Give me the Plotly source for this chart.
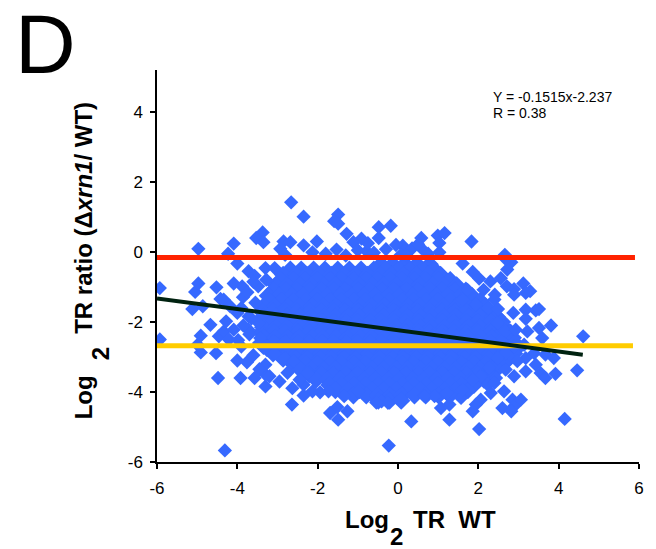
import plotly.graph_objects as go

# ---------------- data ----------------
# dense core of the cloud, one row per Log2 TR ratio level: (y, [x values])
core_rows = [
    (-0.35, [-0.42, -0.13, 0.18, 0.47, 0.79]),
    (-0.50, [-2.68, -2.41, -2.1, -1.82, -1.5, -1.21, -0.92, -0.6, -0.31, 0.02, 0.29, 0.61, 0.9]),
    (-0.65, [-2.86, -2.54, -2.27, -1.96, -1.66, -1.33, -1.06, -0.76, -0.44, -0.16, 0.14, 0.46, 0.75, 1.06]),
    (-0.80, [-2.92, -2.6, -2.31, -2.01, -1.69, -1.41, -1.1, -0.79, -0.51, -0.19, 0.1, 0.41, 0.69, 1.01, 1.3]),
    (-0.95, [-3.04, -2.76, -2.44, -2.16, -1.84, -1.56, -1.24, -0.96, -0.64, -0.36, -0.04, 0.26, 0.54, 0.86, 1.14, 1.46]),
    (-1.10, [-3.1, -2.79, -2.51, -2.19, -1.91, -1.59, -1.31, -0.99, -0.71, -0.39, -0.11, 0.21, 0.49, 0.81, 1.09, 1.41, 1.69]),
    (-1.25, [-3.24, -2.96, -2.64, -2.36, -2.04, -1.76, -1.44, -1.16, -0.84, -0.56, -0.24, 0.04, 0.36, 0.64, 0.96, 1.24, 1.56, 1.84]),
    (-1.40, [-3.21, -2.89, -2.61, -2.29, -2.01, -1.69, -1.41, -1.09, -0.81, -0.49, -0.21, 0.11, 0.39, 0.71, 0.99, 1.31, 1.59, 1.91, 2.05]),
    (-1.55, [-3.34, -3.06, -2.74, -2.46, -2.14, -1.86, -1.54, -1.26, -0.94, -0.66, -0.34, -0.06, 0.26, 0.54, 0.86, 1.14, 1.46, 1.74, 2.06, 2.18]),
    (-1.70, [-3.39, -3.11, -2.79, -2.51, -2.19, -1.91, -1.59, -1.31, -0.99, -0.71, -0.39, -0.11, 0.21, 0.49, 0.81, 1.09, 1.41, 1.69, 2.01, 2.29]),
    (-1.85, [-3.36, -3.04, -2.76, -2.44, -2.16, -1.84, -1.56, -1.24, -0.96, -0.64, -0.36, -0.04, 0.24, 0.56, 0.84, 1.16, 1.44, 1.76, 2.04, 2.36, 2.46]),
    (-2.00, [-3.41, -3.11, -2.81, -2.49, -2.21, -1.89, -1.61, -1.29, -1.01, -0.69, -0.41, -0.09, 0.19, 0.51, 0.79, 1.11, 1.39, 1.71, 1.99, 2.31, 2.59]),
    (-2.15, [-3.36, -3.04, -2.76, -2.44, -2.16, -1.84, -1.56, -1.24, -0.96, -0.64, -0.36, -0.04, 0.24, 0.56, 0.84, 1.16, 1.44, 1.76, 2.04, 2.36, 2.64]),
    (-2.30, [-3.41, -3.09, -2.81, -2.49, -2.21, -1.89, -1.61, -1.29, -1.01, -0.69, -0.41, -0.09, 0.19, 0.51, 0.79, 1.11, 1.39, 1.71, 1.99, 2.31, 2.59, 2.8]),
    (-2.45, [-3.34, -3.06, -2.74, -2.46, -2.14, -1.86, -1.54, -1.26, -0.94, -0.66, -0.34, -0.06, 0.26, 0.54, 0.86, 1.14, 1.46, 1.74, 2.06, 2.34, 2.66, 2.86]),
    (-2.60, [-3.41, -3.09, -2.81, -2.49, -2.21, -1.89, -1.61, -1.29, -1.01, -0.69, -0.41, -0.09, 0.19, 0.51, 0.79, 1.11, 1.39, 1.71, 1.99, 2.31, 2.59, 2.91]),
    (-2.75, [-3.26, -2.94, -2.66, -2.34, -2.06, -1.74, -1.46, -1.14, -0.86, -0.54, -0.26, 0.06, 0.34, 0.66, 0.94, 1.26, 1.54, 1.86, 2.14, 2.46, 2.74, 2.96]),
    (-2.90, [-3.11, -2.79, -2.51, -2.19, -1.91, -1.59, -1.31, -0.99, -0.71, -0.39, -0.11, 0.21, 0.49, 0.81, 1.09, 1.41, 1.69, 2.01, 2.29, 2.61, 2.89]),
    (-3.05, [-2.86, -2.54, -2.26, -1.94, -1.66, -1.34, -1.06, -0.74, -0.46, -0.14, 0.14, 0.46, 0.74, 1.06, 1.34, 1.66, 1.94, 2.26, 2.54, 2.76]),
    (-3.20, [-2.61, -2.29, -2.01, -1.69, -1.41, -1.09, -0.81, -0.49, -0.21, 0.11, 0.39, 0.71, 0.99, 1.31, 1.59, 1.91, 2.19, 2.51, 2.61]),
    (-3.35, [-2.44, -2.16, -1.84, -1.56, -1.24, -0.96, -0.64, -0.36, -0.04, 0.24, 0.56, 0.84, 1.16, 1.44, 1.76, 2.04, 2.36, 2.46]),
    (-3.50, [-2.21, -1.91, -1.61, -1.29, -1.01, -0.69, -0.41, -0.09, 0.19, 0.51, 0.79, 1.11, 1.39, 1.71, 1.99, 2.29]),
    (-3.65, [-2.04, -1.76, -1.44, -1.16, -0.84, -0.56, -0.24, 0.04, 0.36, 0.64, 0.96, 1.24, 1.56, 1.84, 2.14]),
    (-3.80, [-1.71, -1.41, -1.09, -0.81, -0.49, -0.21, 0.11, 0.39, 0.71, 0.99, 1.31, 1.59, 1.89]),
    (-3.95, [-1.56, -1.24, -0.96, -0.64, -0.36, -0.04, 0.24, 0.56, 0.84, 1.16, 1.44, 1.74]),
    (-4.10, [-1.11, -0.79, -0.51, -0.19, 0.09, 0.41, 0.69, 1.01, 1.29]),
    (-4.25, [-0.49, -0.21, 0.08]),
]

# scattered genes around the core (x = Log2 TR WT, y = Log2 TR ratio)
out_x = [
    -2.66, -2.35, -1.49, -1.59, -1.49, -0.48, -0.18, -1.28, -0.91, -1.11, -0.48, -2.02, -2.35, -2.13,
    -3.37, -3.53, -3.35, -4.09, -4.23, -4.97, -2.85, -2.68, -2.93, -2.81, -1.53, -0.78, 0.12, 0.58,
    0.99, 1.16, 1.03, 0.58, 1.83, -4.0, 0.07, 2.66, 2.82, 1.61, 1.86, 2.72, 2.02, 2.30, 2.56, 3.12,
    2.71, 2.89, 3.29, 3.18, 2.41, 2.40, 2.25, 2.49, 2.87, 3.18, 3.43, 3.51, 3.81, 3.18, 3.51, 3.22,
    3.59, 4.61, 3.67, 3.88, 3.39, 3.18, 3.43, 3.55, 3.67, 3.92, 4.46, 3.18, 2.89, 2.68, 2.44, 2.23,
    2.64, 2.31, 2.85, 3.06, 2.89, 2.60, 2.82, 4.15, 2.06, 1.94, 1.86, 2.02, 1.57, 1.28, 1.07, 1.28,
    1.22, 0.91, 0.66, 0.33, -0.23, -4.31, -0.41, -0.25, -0.54, -0.99, -1.26, -1.49, -1.69, -1.51,
    -1.34, -1.73, -1.94, -2.13, -2.35, -2.64, -2.63, -2.35, -2.25, -3.30, -3.30, -3.57, -3.92, -4.48,
    -3.76, -4.0, -3.30, -4.53, -4.91, -4.99, -5.93, -4.91, -4.46, -4.34, -4.67, -4.28, -4.09, -4.21,
    -3.98, -5.12, -4.86, -4.34, -4.18, -5.93, -5.05, -4.97, -4.52, -4.42, -4.09, -3.86, -4.0, -3.72,
    -3.57, -3.30, -3.07, -3.28, -3.48, -3.88, -3.72, -3.47, -3.72, -3.43, -3.35, -3.07, -2.81, -2.60,
    1.03, 2.68, 2.13, 1.73, 1.61, 1.94, 2.89, 2.48, 2.68, 2.93, 3.14, 2.89, 2.68, 2.48, 2.97, 2.27,
    2.06, 1.86, 2.40, 1.61,
    -1.0, -0.6, -0.3, 0.35, 0.75, -1.3, -1.8, 0.2, -0.05, -0.75, 0.5,
    -3.6, -3.75, -3.55, -3.9, -3.65, -3.85, -3.7, -3.9, -3.6, -3.45, -3.2, -2.95, -2.75, -2.45,
]
out_y = [
    1.42, 1.01, 1.07, 0.88, 0.81, 0.71, 0.75, 0.52, 0.38, 0.28, 0.40, 0.30, 0.19, -0.01,
    0.56, 0.40, 0.28, 0.24, -0.05, 0.09, 0.30, 0.28, 0.09, -0.08, 0.07, 0.02, 0.18, 0.40,
    0.47, 0.54, 0.26, 0.11, 0.30, -0.33, -0.08, -0.08, -0.29, -0.33, -0.57, -0.50, -0.76, -0.84, -0.75, -0.90,
    -0.98, -1.06, -1.12, -1.17, -1.22, -1.36, -1.60, -1.63, -1.74, -1.65, -1.67, -1.63, -2.10, -1.91, -2.17, -2.27,
    -2.46, -2.41, -2.93, -3.03, -2.89, -3.03, -3.22, -3.46, -3.60, -3.48, -3.38, -3.41, -3.55, -3.36, -3.60, -3.79,
    -3.98, -4.03, -4.22, -4.22, -4.41, -4.46, -4.55, -4.77, -4.22, -4.36, -4.55, -5.06, -4.17, -4.36, -4.46, -4.79,
    -4.03, -4.12, -4.12, -4.84, -5.53, -5.67, -4.27, -4.31, -4.30, -3.98, -4.55, -4.79, -4.60, -4.43,
    -4.12, -3.98, -4.01, -3.98, -4.10, -4.36, -3.89, -3.79, -3.46, -3.84, -3.50, -3.60, -3.60, -3.60,
    -3.15, -3.10, -3.22, -2.89, -2.87, -2.65, -2.50, -2.39, -2.41, -2.27, -2.08, -1.98, -2.22, -2.50,
    -2.52, -1.63, -1.55, -1.36, -1.55, -1.03, -1.14, -0.90, -1.01, -1.34, -0.90, -1.29, -1.74, -0.55,
    -0.68, -0.46, -0.46, -0.79, -0.98, -0.98, -1.84, -2.03, -2.22, -2.46, -2.74, -2.89, -3.03, -3.12,
    -0.01, -0.20, -1.08, -1.08, -1.36, -1.50, -1.22, -2.03, -2.27, -2.22, -2.65, -2.70, -2.89, -3.03, -3.12, -3.31,
    -3.55, -3.65, -3.74, -3.93,
    0.05, -0.02, 0.08, 0.1, -0.05, -0.1, -0.05, -0.1, 0.2, 0.25, 0.22,
    -0.85, -1.15, -1.45, -1.6, -1.9, -2.1, -2.35, -2.7, -2.95, -3.35, -3.55, -3.7, -3.45, -3.65,
]

# reference lines
red_level = -0.16
red_span = [-6, 5.9]
yellow_level = -2.68
yellow_span = [-6, 5.85]
fit_slope = -0.1515
fit_intercept = -2.237
fit_span = [-6, 4.6]

x_ticks = [-6, -4, -2, 0, 2, 4, 6]
y_ticks = [-6, -4, -2, 0, 2, 4]
x_range = [-6, 6]
y_range = [-6, 5.2]

# ---------------- figure ----------------
core_x, core_y = [], []
for yv, xs in core_rows:
    core_x.extend(xs)
    core_y.extend([yv] * len(xs))

FONT = "Arial, 'Liberation Sans', sans-serif"
BLUE = "#3669FF"

fig = go.Figure()
# the dense core: markers overlap into one solid patch, as in the original
fig.add_trace(go.Scatter(
    x=core_x, y=core_y, mode="markers",
    marker=dict(symbol="diamond", size=14, color=BLUE, line=dict(width=0)),
    hoverinfo="skip", showlegend=False,
))
fig.add_trace(go.Scatter(
    x=out_x, y=out_y, mode="markers",
    marker=dict(symbol="diamond", size=11, color=BLUE, line=dict(width=0)),
    hoverinfo="skip", showlegend=False,
))
fig.add_trace(go.Scatter(
    x=red_span, y=[red_level, red_level], mode="lines",
    line=dict(color="#FF2200", width=5), showlegend=False, hoverinfo="skip",
))
fig.add_trace(go.Scatter(
    x=yellow_span, y=[yellow_level, yellow_level], mode="lines",
    line=dict(color="#FFCC00", width=5), showlegend=False, hoverinfo="skip",
))
fig.add_trace(go.Scatter(
    x=fit_span, y=[fit_slope * v + fit_intercept for v in fit_span], mode="lines",
    line=dict(color="#002210", width=4), showlegend=False, hoverinfo="skip",
))

L, R, T, B = 157, 15, 70, 87
W, H = 656, 549
PW, PH = W - L - R, H - T - B


def px(xp):
    return (xp - L) / PW


def py(yp):
    return (H - B - yp) / PH


annos = [
    dict(text="D", x=px(12), y=py(44), xanchor="left", yanchor="middle",
         font=dict(size=84, family=FONT, color="black")),
    dict(text="Y = -0.1515x-2.237", x=px(492), y=py(97), xanchor="left", yanchor="middle",
         font=dict(size=14, family=FONT, color="black")),
    dict(text="R = 0.38", x=px(492), y=py(113.5), xanchor="left", yanchor="middle",
         font=dict(size=14, family=FONT, color="black")),
    # x title
    dict(text="<b>Log</b>", x=px(344), y=py(519), xanchor="left", yanchor="middle",
         font=dict(size=24, family=FONT, color="black")),
    dict(text="<b>2</b>", x=px(389), y=py(536), xanchor="left", yanchor="middle",
         font=dict(size=24, family=FONT, color="black")),
    dict(text="<b>TR\u00a0\u00a0WT</b>", x=px(412), y=py(519), xanchor="left", yanchor="middle",
         font=dict(size=24, family=FONT, color="black")),
    # y title
    dict(text="<b>Log</b>", x=px(83), y=py(397), xanchor="center", yanchor="middle",
         textangle=-90, font=dict(size=24, family=FONT, color="black")),
    dict(text="<b>2</b>", x=px(100.5), y=py(353.5), xanchor="center", yanchor="middle",
         textangle=-90, font=dict(size=24, family=FONT, color="black")),
    dict(text="<b>TR ratio (Δ<i>xrn1</i>/ WT)</b>", x=px(83), y=py(217.5),
         xanchor="center", yanchor="middle",
         textangle=-90, font=dict(size=24, family=FONT, color="black")),
]
for a in annos:
    a.update(xref="paper", yref="paper", showarrow=False)

fig.update_layout(
    width=W, height=H,
    margin=dict(l=L, r=R, t=T, b=B, pad=0),
    paper_bgcolor="white", plot_bgcolor="white",
    font=dict(family=FONT, size=17, color="black"),
    annotations=annos,
    xaxis=dict(range=x_range, tickvals=x_ticks, ticktext=[str(v) for v in x_ticks],
               showgrid=False, zeroline=False, showline=True, linecolor="black",
               linewidth=1.5, ticks="outside", ticklen=5, tickwidth=1.5,
               tickcolor="black", tickfont=dict(size=17), ticklabelstandoff=5, mirror=False),
    yaxis=dict(range=y_range, tickvals=y_ticks, ticktext=[str(v) for v in y_ticks],
               showgrid=False, zeroline=False, showline=True, linecolor="black",
               linewidth=1.5, ticks="outside", ticklen=5, tickwidth=1.5,
               tickcolor="black", tickfont=dict(size=17), ticklabelstandoff=4, mirror=False),
)

fig.write_html("out.html", config={"displayModeBar": False},
               post_script="document.body.style.margin='0';document.body.style.padding='0';")
